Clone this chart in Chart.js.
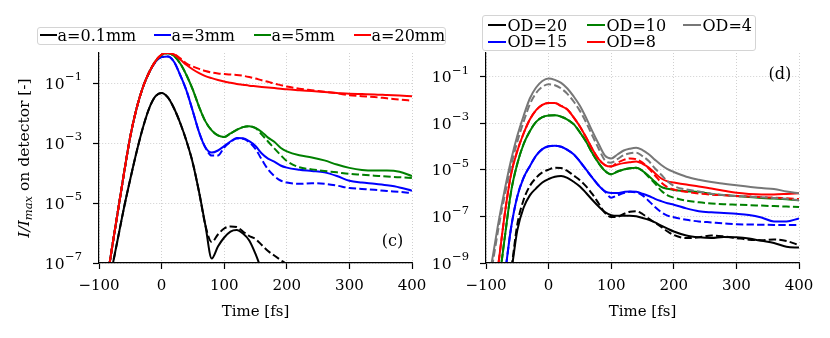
<!DOCTYPE html>
<html>
<head>
<meta charset="utf-8">
<script src="https://cdn.jsdelivr.net/npm/chart.js@4.4.1/dist/chart.umd.min.js"></script>
<style>
	body { margin: 0; background: #fff; }
	#wrap { position: relative; width: 830px; height: 338px; overflow: hidden; }
	canvas { position: absolute; left: 0; top: 0; }
	.box { position: absolute; box-sizing: border-box; border: 1px solid #d4d4d4; border-radius: 3px; background: #fff; }
	.key { position: absolute; height: 2px; }
	.lab { position: absolute; font-family: "DejaVu Serif", serif; font-size: 16px; line-height: 16px; white-space: nowrap; color: #000; }
</style>
</head>
<body>
<div id="wrap">
	<div class="box" style="left:37px;top:27px;width:409px;height:18px"></div>
	<div class="box" style="left:482px;top:15px;width:274px;height:36px"></div>
	<canvas id="left" width="830" height="338"></canvas>
	<canvas id="right" width="830" height="338"></canvas>
</div>
<script>
// time axis (fs)
const time = [-100, -90, -80, -70, -60, -50, -40, -30, -20, -10, 0, 10, 20, 30, 40, 50, 60, 70, 80, 90, 100,
	110, 120, 130, 140, 150, 160, 170, 180, 190, 200, 220, 240, 260, 280, 300, 320, 340, 360, 380, 400];

// panel (c): solid and dashed curves for each aperture
const a01Solid = [5.01e-10, 5.01e-9, 5.62e-8, 6.31e-7, 7.08e-6, 6.31e-5, 5.01e-4, 3.16e-3, 1.41e-2, 3.55e-2, 4.68e-2,
	3.31e-2, 1.41e-2, 4.47e-3, 1.12e-3, 2.09e-4, 2.24e-5, 1.78e-6, 1.41e-7, 3.55e-7, 7.08e-7,
	1.12e-6, 1.26e-6, 9.55e-7, 5.62e-7, 2.0e-7, 5.62e-8, 1.58e-8, 3.98e-9, 1e-9, 2.51e-10,
	null, null, null, null, null, null, null, null, null, null];
const a01Dashed = [5.01e-10, 5.01e-9, 5.62e-8, 6.31e-7, 7.08e-6, 6.31e-5, 5.01e-4, 3.16e-3, 1.41e-2, 3.55e-2, 4.68e-2,
	3.31e-2, 1.41e-2, 4.47e-3, 1.12e-3, 2.09e-4, 2.24e-5, 1.78e-6, 5.01e-7, 8.91e-7, 1.41e-6,
	1.66e-6, 1.58e-6, 1.12e-6, 7.94e-7, 6.31e-7, 3.98e-7, 2.51e-7, 1.78e-7, 1.26e-7, 8.91e-8,
	3.16e-8, 1e-8, null, null, null, null, null, null, null, null];
const a3Solid = [3.16e-10, 1.12e-8, 2.51e-7, 5.01e-6, 1e-4, 1.66e-3, 1.41e-2, 7.08e-2, 2.24e-1, 5.01e-1, 7.41e-1,
	7.59e-1, 5.01e-1, 1.78e-1, 5.37e-2, 1.12e-2, 2.24e-3, 7.08e-4, 4.79e-4, 5.62e-4, 7.94e-4,
	1.12e-3, 1.48e-3, 1.45e-3, 1.15e-3, 7.94e-4, 4.47e-4, 3.02e-4, 2.40e-4, 1.78e-4, 1.51e-4,
	1.29e-4, 1.17e-4, 1.05e-4, 7.94e-5, 5.50e-5, 4.79e-5, 4.37e-5, 3.89e-5, 3.31e-5, 2.57e-5];
const a3Dashed = [3.16e-10, 1.12e-8, 2.51e-7, 5.01e-6, 1e-4, 1.66e-3, 1.41e-2, 7.08e-2, 2.24e-1, 5.01e-1, 7.41e-1,
	7.59e-1, 5.01e-1, 1.78e-1, 5.37e-2, 1.12e-2, 2.24e-3, 7.08e-4, 3.80e-4, 3.80e-4, 7.08e-4,
	1.07e-3, 1.41e-3, 1.38e-3, 1.07e-3, 6.31e-4, 2.82e-4, 1.32e-4, 7.94e-5, 5.62e-5, 4.79e-5,
	4.37e-5, 4.57e-5, 4.37e-5, 3.80e-5, 3.16e-5, 2.95e-5, 2.75e-5, 2.51e-5, 2.34e-5, 2.14e-5];
const a5Solid = [3.16e-10, 1.12e-8, 2.51e-7, 5.01e-6, 1e-4, 1.66e-3, 1.41e-2, 7.08e-2, 2.24e-1, 5.25e-1, 8.71e-1,
	9.77e-1, 7.94e-1, 4.37e-1, 1.78e-1, 5.89e-2, 1.58e-2, 5.25e-3, 2.63e-3, 1.78e-3, 1.58e-3,
	2.09e-3, 2.75e-3, 3.39e-3, 3.63e-3, 3.16e-3, 2.34e-3, 1.51e-3, 1.10e-3, 6.92e-4, 5.25e-4,
	3.89e-4, 3.31e-4, 2.63e-4, 1.91e-4, 1.48e-4, 1.26e-4, 1.20e-4, 1.20e-4, 1.10e-4, 7.94e-5];
const a5Dashed = [3.16e-10, 1.12e-8, 2.51e-7, 5.01e-6, 1e-4, 1.66e-3, 1.41e-2, 7.08e-2, 2.24e-1, 5.25e-1, 8.71e-1,
	9.77e-1, 7.94e-1, 4.37e-1, 1.78e-1, 5.89e-2, 1.58e-2, 5.25e-3, 2.63e-3, 1.78e-3, 1.58e-3,
	2.09e-3, 2.75e-3, 3.39e-3, 3.63e-3, 3.16e-3, 1.91e-3, 1.12e-3, 6.61e-4, 3.98e-4, 2.51e-4,
	1.55e-4, 1.32e-4, 1.17e-4, 1.05e-4, 9.33e-5, 8.71e-5, 8.13e-5, 7.59e-5, 7.24e-5, 6.76e-5];
const a20Solid = [3.16e-10, 1.12e-8, 2.51e-7, 5.01e-6, 1e-4, 1.66e-3, 1.41e-2, 7.08e-2, 2.24e-1, 5.25e-1, 8.91e-1,
	1.0, 8.91e-1, 6.03e-1, 3.98e-1, 2.82e-1, 2.14e-1, 1.70e-1, 1.45e-1, 1.26e-1, 1.12e-1,
	1.02e-1, 9.33e-2, 8.71e-2, 8.13e-2, 7.76e-2, 7.41e-2, 7.08e-2, 6.76e-2, 6.46e-2, 6.17e-2,
	5.75e-2, 5.37e-2, 5.01e-2, 4.68e-2, 4.37e-2, 4.27e-2, 4.17e-2, 3.98e-2, 3.80e-2, 3.63e-2];
const a20Dashed = [3.16e-10, 1.12e-8, 2.51e-7, 5.01e-6, 1e-4, 1.66e-3, 1.41e-2, 7.08e-2, 2.24e-1, 5.25e-1, 8.91e-1,
	1.0, 9.12e-1, 6.61e-1, 4.47e-1, 3.55e-1, 2.95e-1, 2.51e-1, 2.24e-1, 2.09e-1, 2.0e-1,
	1.91e-1, 1.86e-1, 1.74e-1, 1.58e-1, 1.41e-1, 1.23e-1, 1.10e-1, 9.55e-2, 8.51e-2, 7.59e-2,
	6.46e-2, 5.75e-2, 5.13e-2, 4.57e-2, 3.89e-2, 3.63e-2, 3.39e-2, 3.09e-2, 2.82e-2, 2.57e-2];

// panel (d): solid and dashed curves for each optical density
const od20Solid = [1e-15, 3.16e-14, 1e-12, 3.16e-11, 3.98e-10, 2.51e-8, 2.34e-7, 7.94e-7, 1.58e-6, 2.82e-6, 3.98e-6,
	5.01e-6, 5.37e-6, 4.47e-6, 3.02e-6, 1.91e-6, 1e-6, 5.01e-7, 2.63e-7, 1.51e-7, 1.12e-7,
	1.05e-7, 1.05e-7, 1.05e-7, 1e-7, 8.51e-8, 7.08e-8, 5.50e-8, 3.98e-8, 2.95e-8, 2.24e-8,
	1.51e-8, 1.26e-8, 1.17e-8, 1.29e-8, 1.26e-8, 1.12e-8, 8.91e-9, 7.24e-9, 5.01e-9, 4.57e-9];
const od20Dashed = [1e-15, 3.16e-14, 1e-12, 3.16e-11, 5.01e-10, 4.47e-8, 5.01e-7, 2.0e-6, 4.47e-6, 7.59e-6, 1e-5,
	1.20e-5, 1.17e-5, 8.91e-6, 5.62e-6, 3.55e-6, 1.91e-6, 8.91e-7, 3.55e-7, 1.41e-7, 9.33e-8,
	9.55e-8, 1.26e-7, 1.58e-7, 1.66e-7, 1.26e-7, 7.94e-8, 5.37e-8, 3.55e-8, 2.24e-8, 1.58e-8,
	1.17e-8, 1.26e-8, 1.51e-8, 1.38e-8, 1.17e-8, 1e-8, 9.55e-9, 1.02e-8, 8.71e-9, 5.89e-9];
const od15Solid = [1e-14, 3.16e-13, 1e-11, 3.16e-10, 3.16e-8, 7.08e-7, 4.47e-6, 1.41e-5, 3.98e-5, 7.59e-5, 1e-4,
	1.07e-4, 9.55e-5, 7.08e-5, 4.57e-5, 2.24e-5, 1e-5, 4.47e-6, 2.09e-6, 1.17e-6, 1e-6,
	1e-6, 1.10e-6, 1.17e-6, 1.12e-6, 9.33e-7, 7.41e-7, 5.62e-7, 4.47e-7, 3.63e-7, 3.16e-7,
	2.19e-7, 1.66e-7, 1.48e-7, 1.38e-7, 1.29e-7, 1.15e-7, 8.91e-8, 6.03e-8, 6.03e-8, 8.13e-8];
const od15Dashed = [1e-14, 3.16e-13, 1e-11, 3.16e-10, 3.16e-8, 7.08e-7, 4.47e-6, 1.41e-5, 3.98e-5, 7.59e-5, 1e-4,
	1.07e-4, 9.55e-5, 7.08e-5, 4.57e-5, 2.24e-5, 1e-5, 4.47e-6, 2.09e-6, 1.17e-6, 6.31e-7,
	7.94e-7, 1e-6, 1.12e-6, 1.07e-6, 7.94e-7, 4.57e-7, 2.51e-7, 1.51e-7, 1.07e-7, 9.12e-8,
	7.08e-8, 6.03e-8, 5.50e-8, 5.01e-8, 4.57e-8, 4.47e-8, 4.37e-8, 4.27e-8, 4.27e-8, 4.27e-8];
const od10Solid = [3.16e-13, 6.31e-12, 1.26e-10, 1.26e-8, 1.12e-6, 1.78e-5, 1.23e-4, 4.47e-4, 1.12e-3, 1.78e-3, 2.09e-3,
	2.14e-3, 1.86e-3, 1.41e-3, 8.91e-4, 3.98e-4, 1.58e-4, 5.01e-5, 1.91e-5, 8.91e-6, 6.31e-6,
	8.32e-6, 1.02e-5, 1.15e-5, 1.20e-5, 8.91e-6, 5.37e-6, 3.02e-6, 1.82e-6, 1.51e-6, 1.35e-6,
	1.20e-6, 1.10e-6, 9.12e-7, 8.13e-7, 7.41e-7, 6.76e-7, 6.17e-7, 5.75e-7, 5.37e-7, 4.90e-7];
const od10Dashed = [3.16e-13, 6.31e-12, 1.26e-10, 1.26e-8, 1.12e-6, 1.78e-5, 1.23e-4, 4.47e-4, 1.12e-3, 1.78e-3, 2.09e-3,
	2.14e-3, 1.86e-3, 1.41e-3, 8.91e-4, 3.98e-4, 1.58e-4, 5.01e-5, 1.91e-5, 8.91e-6, 6.31e-6,
	8.32e-6, 1.02e-5, 1.15e-5, 1.20e-5, 8.91e-6, 4.79e-6, 2.51e-6, 1.26e-6, 7.94e-7, 6.31e-7,
	4.68e-7, 3.98e-7, 3.55e-7, 3.31e-7, 3.16e-7, 3.02e-7, 2.88e-7, 2.75e-7, 2.63e-7, 2.51e-7];
const od8Solid = [1e-13, 1e-11, 1e-9, 1.26e-7, 6.31e-6, 6.31e-5, 3.55e-4, 1.41e-3, 3.55e-3, 6.03e-3, 7.24e-3,
	7.24e-3, 5.37e-3, 3.80e-3, 1.74e-3, 7.08e-4, 2.40e-4, 7.59e-5, 2.82e-5, 1.58e-5, 1.38e-5,
	1.66e-5, 1.91e-5, 2.09e-5, 2.24e-5, 1.78e-5, 1.23e-5, 7.08e-6, 4.17e-6, 3.16e-6, 2.82e-6,
	2.29e-6, 1.91e-6, 1.55e-6, 1.26e-6, 1.02e-6, 9.12e-7, 8.71e-7, 8.71e-7, 9.12e-7, 9.77e-7];
const od8Dashed = [1e-13, 1e-11, 1e-9, 1.26e-7, 6.31e-6, 6.31e-5, 3.55e-4, 1.41e-3, 3.55e-3, 6.03e-3, 7.24e-3,
	7.24e-3, 5.37e-3, 3.80e-3, 1.74e-3, 7.08e-4, 2.40e-4, 7.59e-5, 2.82e-5, 1.58e-5, 1.38e-5,
	2.0e-5, 2.63e-5, 3.02e-5, 2.82e-5, 2.0e-5, 1.12e-5, 5.62e-6, 2.82e-6, 1.78e-6, 1.41e-6,
	1.12e-6, 9.55e-7, 8.51e-7, 7.94e-7, 7.41e-7, 7.08e-7, 6.61e-7, 6.31e-7, 5.89e-7, 5.50e-7];
const od4Solid = [5.01e-11, 1.41e-9, 5.62e-8, 1.41e-6, 2.51e-5, 2.82e-4, 2.0e-3, 1.12e-2, 3.31e-2, 6.31e-2, 8.13e-2,
	7.08e-2, 5.25e-2, 3.02e-2, 1.38e-2, 5.50e-3, 1.66e-3, 4.37e-4, 1.26e-4, 3.98e-5, 3.02e-5,
	4.47e-5, 6.61e-5, 7.94e-5, 8.71e-5, 6.92e-5, 4.57e-5, 2.63e-5, 1.58e-5, 1.05e-5, 7.94e-6,
	5.01e-6, 3.72e-6, 2.95e-6, 2.51e-6, 2.14e-6, 1.86e-6, 1.62e-6, 1.48e-6, 1.17e-6, 9.77e-7];
const od4Dashed = [3.16e-11, 7.94e-10, 3.16e-8, 7.94e-7, 1.41e-5, 1.58e-4, 1.12e-3, 6.31e-3, 1.91e-2, 3.55e-2, 4.57e-2,
	4.17e-2, 3.02e-2, 1.78e-2, 8.32e-3, 3.31e-3, 1.05e-3, 2.82e-4, 7.94e-5, 2.51e-5, 2.0e-5,
	2.82e-5, 4.17e-5, 5.01e-5, 5.37e-5, 3.80e-5, 2.34e-5, 1.12e-5, 6.03e-6, 3.16e-6, 2.0e-6,
	1.41e-6, 1.15e-6, 9.33e-7, 8.13e-7, 7.41e-7, 6.92e-7, 6.61e-7, 6.17e-7, 5.62e-7, 4.90e-7];

const leftNames = ["a=0.1mm", "a=3mm", "a=5mm", "a=20mm"];
const leftColors = ["#000000", "#0000ff", "#008000", "#ff0000"];
const leftSolid = [a01Solid, a3Solid, a5Solid, a20Solid];
const leftDashed = [a01Dashed, a3Dashed, a5Dashed, a20Dashed];
const leftYTicks = [1e-1, 1e-3, 1e-5, 1e-7];

const rightNames = ["OD=20", "OD=15", "OD=10", "OD=8", "OD=4"];
const rightColors = ["#000000", "#0000ff", "#008000", "#ff0000", "#777777"];
const rightSolid = [od20Solid, od15Solid, od10Solid, od8Solid, od4Solid];
const rightDashed = [od20Dashed, od15Dashed, od10Dashed, od8Dashed, od4Dashed];
const rightYTicks = [1e-1, 1e-3, 1e-5, 1e-7, 1e-9];

const xTicks = [-100, 0, 100, 200, 300, 400];

const SERIF = "'DejaVu Serif', serif";
const FONT = { family: SERIF, size: 15 };

function buildSets(colors, solids, dashes) {
	const sets = [];
	colors.forEach((c, i) => {
		sets.push({ data: solids[i].map((v, k) => ({ x: time[k], y: v })), borderColor: c, borderDash: [] });
		sets.push({ data: dashes[i].map((v, k) => ({ x: time[k], y: v })), borderColor: c, borderDash: [7.4, 3.2] });
	});
	// later curves go on top, like matplotlib
	sets.forEach((s, i) => {
		s.order = sets.length - i;
		s.borderWidth = 2;
		s.pointRadius = 0;
		s.fill = false;
		s.cubicInterpolationMode = "monotone";
		s.spanGaps = false;
	});
	return sets;
}

// "(c)" / "(d)" and the power-of-ten tick labels with a real superscript
const decorations = {
	id: "decorations",
	afterDraw(chart, args, o) {
		const { ctx, chartArea } = chart;
		const y = chart.scales.y;
		ctx.save();
		ctx.fillStyle = "#000";
		ctx.textBaseline = "middle";
		y.ticks.forEach((t) => {
			const py = y.getPixelForValue(t.value);
			const ex = "\u2212" + Math.round(-Math.log10(t.value));
			ctx.font = "11.5px " + SERIF;
			const ew = ctx.measureText(ex).width;
			const right = chartArea.left - 17;
			ctx.textAlign = "right";
			ctx.fillText(ex, right, py - 5.5);
			ctx.font = "15.5px " + SERIF;
			ctx.fillText("10", right - ew - 0.5, py + 1.5);
		});
		ctx.font = "16px " + SERIF;
		ctx.textAlign = "center";
		ctx.fillText(o.text, chartArea.left + o.fx * chartArea.width, chartArea.top + o.fy * chartArea.height);
		if (o.yTitle) {
			const parts = [
				{ text: "I/I", font: "italic 15.5px " + SERIF, dy: 0 },
				{ text: "max", font: "italic 11.5px " + SERIF, dy: 4 },
				{ text: " on detector [-]", font: "15.5px " + SERIF, dy: 0 },
			];
			let total = 0;
			parts.forEach((p) => { ctx.font = p.font; p.w = ctx.measureText(p.text).width; total += p.w; });
			ctx.translate(25, (chartArea.top + chartArea.bottom) / 2);
			ctx.rotate(-Math.PI / 2);
			ctx.textAlign = "left";
			let x = -total / 2;
			parts.forEach((p) => { ctx.font = p.font; ctx.fillText(p.text, x, p.dy); x += p.w; });
		}
		ctx.restore();
	},
};

function makeChart(id, sets, yMin, yTicks, axisWidth, padRight, label) {
	const gridStyle = { color: "#c4c4c4", lineWidth: 0.8, tickLength: 6, tickColor: "#000", tickWidth: 1.2 };
	const borderStyle = { color: "#000", width: 1.2, dash: [1, 2], z: 1 };
	return new Chart(document.getElementById(id), {
		type: "line",
		data: { datasets: sets },
		plugins: [decorations],
		options: {
			responsive: false,
			animation: false,
			events: [],
			layout: { padding: { top: 53, right: padRight, bottom: 0, left: 0 } },
			plugins: { legend: { display: false }, tooltip: { enabled: false }, decorations: label },
			scales: {
				x: {
					type: "linear",
					min: -100,
					max: 400,
					afterBuildTicks: (s) => { s.ticks = xTicks.map((v) => ({ value: v })); },
					ticks: {
						font: FONT, color: "#000", padding: 8, maxRotation: 0, autoSkip: false,
						callback: (v) => (v < 0 ? "\u2212" + Math.abs(v) : String(v)),
					},
					grid: gridStyle,
					border: borderStyle,
					title: { display: true, text: "Time [fs]", font: FONT, color: "#000", padding: { top: 0, bottom: 17 } },
					afterFit: (s) => { s.height = 75; s.paddingLeft = 0; s.paddingRight = 0; },
				},
				y: {
					type: "logarithmic",
					min: yMin,
					max: 1,
					afterBuildTicks: (s) => { s.ticks = yTicks.map((v) => ({ value: v })); },
					ticks: { display: false },
					grid: gridStyle,
					border: borderStyle,
					afterFit: (s) => { s.width = axisWidth; s.paddingTop = 0; s.paddingBottom = 0; },
				},
			},
		},
	});
}

makeChart("left", buildSets(leftColors, leftSolid, leftDashed), 1e-7, leftYTicks, 99, 418,
	{ text: "(c)", fx: 0.938, fy: 0.9, yTitle: true });
makeChart("right", buildSets(rightColors, rightSolid, rightDashed), 1e-9, rightYTicks, 486, 31,
	{ text: "(d)", fx: 0.939, fy: 0.105, yTitle: false });

// legends
const wrap = document.getElementById("wrap");
function addKey(x, y, w, color, text, tx) {
	const k = document.createElement("div");
	k.className = "key";
	k.style.cssText = `left:${x}px;top:${y - 1}px;width:${w}px;background:${color}`;
	wrap.appendChild(k);
	const t = document.createElement("div");
	t.className = "lab";
	t.style.cssText = `left:${tx}px;top:${y - 7.5}px`;
	t.textContent = text;
	wrap.appendChild(t);
}
const leftKeyX = [40, 154, 254, 354];
leftNames.forEach((n, i) => addKey(leftKeyX[i], 35, 17, leftColors[i], n, leftKeyX[i] + 17.5));
const rightColX = [488, 587, 683];
const rightRowY = [25, 41.7];
rightNames.forEach((n, i) => {
	const col = Math.floor(i / 2);
	const row = i % 2;
	addKey(rightColX[col], rightRowY[row], 18, rightColors[i], n, rightColX[col] + 19.5);
});
</script>
</body>
</html>
